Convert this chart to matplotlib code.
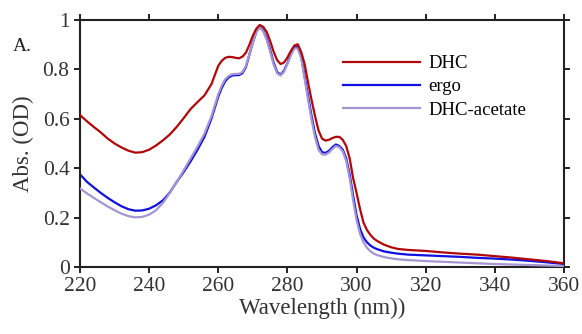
import matplotlib
matplotlib.use("Agg")
import matplotlib.pyplot as plt

plt.rcParams['font.family'] = ['Liberation Serif', 'DejaVu Serif']

# ------ data ------
wavelength = [220, 222, 224, 226, 228, 230, 232, 234, 236, 238, 240, 242, 244, 246, 248, 250,
              252, 254, 256, 258, 260,
              261, 262, 263, 264, 265, 266, 267, 268, 269, 270, 271, 272, 273, 274, 275, 276,
              277, 278, 279, 280, 281, 282, 283, 284, 285, 286, 287, 288, 289, 290, 291, 292,
              293, 294, 295, 296, 297, 298, 299, 300, 301, 302, 303, 304, 305, 306,
              308, 310, 312, 315, 320, 325, 330, 335, 340, 345, 350, 355, 360]

dhc = [0.615, 0.59, 0.567, 0.545, 0.52, 0.5, 0.484, 0.471, 0.463, 0.465, 0.475, 0.492, 0.513,
       0.537, 0.568, 0.603, 0.64, 0.668, 0.695, 0.74, 0.815,
       0.835, 0.847, 0.851, 0.85, 0.847, 0.845, 0.852, 0.868, 0.9, 0.937, 0.965, 0.98, 0.972,
       0.952, 0.915, 0.872, 0.838, 0.822, 0.828, 0.848, 0.875, 0.897, 0.902, 0.87, 0.82, 0.745,
       0.675, 0.61, 0.553, 0.52, 0.512, 0.515, 0.522, 0.527, 0.527, 0.515, 0.49, 0.44, 0.36,
       0.3, 0.235, 0.18, 0.15, 0.13, 0.115, 0.105,
       0.09, 0.08, 0.073, 0.069, 0.065, 0.059, 0.054, 0.05, 0.044, 0.038, 0.031, 0.024, 0.015]

ergo = [0.375, 0.345, 0.322, 0.3, 0.28, 0.262, 0.246, 0.234, 0.228, 0.229, 0.236, 0.25, 0.27,
        0.302, 0.345, 0.385, 0.428, 0.475, 0.527, 0.6, 0.69,
        0.725, 0.752, 0.768, 0.775, 0.777, 0.777, 0.785, 0.81, 0.86, 0.91, 0.952, 0.973, 0.958,
        0.926, 0.88, 0.828, 0.79, 0.778, 0.795, 0.825, 0.862, 0.89, 0.89, 0.85, 0.77, 0.69,
        0.61, 0.54, 0.49, 0.465, 0.462, 0.47, 0.485, 0.496, 0.49, 0.475, 0.44, 0.375, 0.29,
        0.21, 0.155, 0.12, 0.1, 0.087, 0.078, 0.072,
        0.063, 0.058, 0.054, 0.05, 0.047, 0.044, 0.041, 0.037, 0.034, 0.03, 0.025, 0.019, 0.012]

acetate = [0.318, 0.298, 0.28, 0.262, 0.245, 0.23, 0.216, 0.206, 0.201, 0.203, 0.212, 0.23, 0.26,
           0.3, 0.345, 0.392, 0.44, 0.488, 0.54, 0.61, 0.7,
           0.735, 0.76, 0.774, 0.78, 0.782, 0.782, 0.79, 0.815, 0.862, 0.91, 0.952, 0.971, 0.955,
           0.92, 0.872, 0.82, 0.785, 0.775, 0.79, 0.822, 0.858, 0.885, 0.885, 0.845, 0.76, 0.675,
           0.595, 0.525, 0.475, 0.456, 0.455, 0.463, 0.478, 0.49, 0.485, 0.468, 0.43, 0.36, 0.27,
           0.19, 0.135, 0.1, 0.078, 0.064, 0.054, 0.048,
           0.04, 0.035, 0.031, 0.028, 0.024, 0.021, 0.018, 0.015, 0.012, 0.01, 0.008, 0.006, 0.004]

xticks = [220, 240, 260, 280, 300, 320, 340, 360]
yticks = [0, 0.2, 0.4, 0.6, 0.8, 1]
ytick_labels = ['0', '0.2', '0.4', '0.6', '0.8', '1']

# ------ figure ------
fig = plt.figure(figsize=(5.82, 3.34), dpi=100)
ax = fig.add_axes([0.1375, 0.2006, 0.8315, 0.7394])

ax.plot(wavelength, ergo, color='#1010E0', lw=1.6, label='ergo', zorder=2)
ax.plot(wavelength, acetate, color='#A596D2', lw=1.6, label='DHC-acetate', zorder=3)
ax.plot(wavelength, dhc, color='#B00808', lw=1.6, label='DHC', zorder=4)

ax.set_xlim(220, 360)
ax.set_ylim(0, 1)
ax.set_xticks(xticks)
ax.set_yticks(yticks)
ax.set_yticklabels(ytick_labels)
ax.tick_params(direction='out', length=4.5, width=1.4, labelsize=15.5, color='#222222',
               labelcolor='#333333', top=True, right=True, pad=3)
for s in ax.spines.values():
    s.set_linewidth(1.5)
    s.set_color('#222222')

ax.set_xlabel('Wavelength (nm))', fontsize=16.5, labelpad=1, color='#333333')
ax.set_ylabel('Abs. (OD)', fontsize=16.5, labelpad=6, color='#333333')
fig.text(0.038, 0.86, 'A.', fontsize=14, color='#222222', va='center', ha='center')

h, l = ax.get_legend_handles_labels()
order = [2, 0, 1]
ax.legend([h[i] for i in order], [l[i] for i in order], frameon=False, fontsize=13.5,
          handlelength=4.1, handletextpad=0.45, labelspacing=0.33,
          loc='upper left', bbox_to_anchor=(0.528, 0.889), borderaxespad=0)

fig.savefig('out.png', dpi=100)
